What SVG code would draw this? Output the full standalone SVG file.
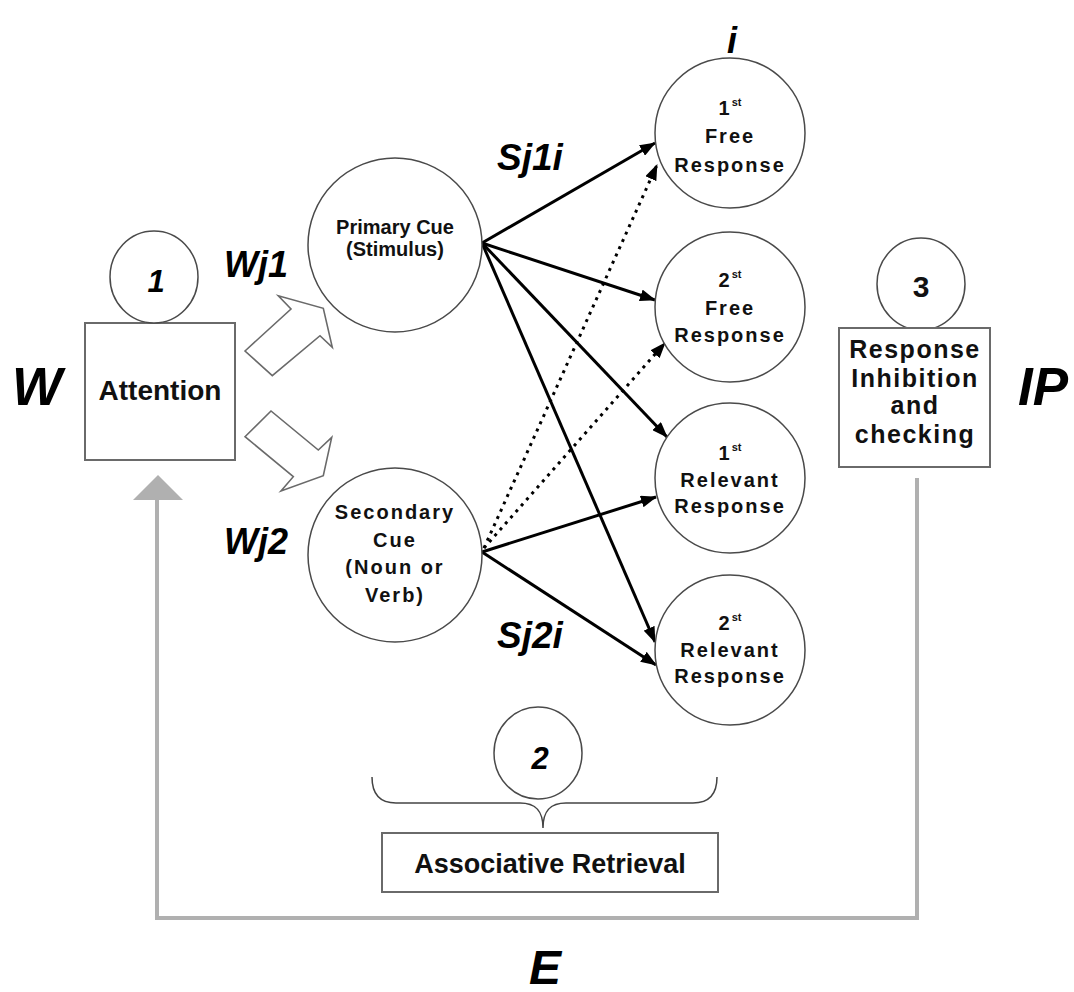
<svg xmlns="http://www.w3.org/2000/svg" width="1074" height="992" viewBox="0 0 1074 992">
  <defs>
    <style>
      .bg { fill: #ffffff; }
      .ring { fill: #ffffff; stroke: #4a4a4a; stroke-width: 1.5; }
      .box { fill: #ffffff; stroke: #6a6a6a; stroke-width: 2; }
      .hollow { fill: #ffffff; stroke: #6a6a6a; stroke-width: 1.6; stroke-linejoin: miter; }
      .t { font-family: "Liberation Sans", Arial, sans-serif; fill: #111; text-anchor: middle; }
      .bi { font-family: "Liberation Sans", Arial, sans-serif; font-weight: bold; font-style: italic; fill: #000; }
      .cue { font-size: 20px; font-weight: bold; }
      .lbl { font-size: 20px; font-weight: bold; letter-spacing: 2px; }
      .sup { font-size: 11px; font-weight: bold; letter-spacing: 0; }
      .num { font-size: 30px; font-weight: bold; }
      .edge { stroke: #000; stroke-width: 3; fill: none; }
      .dot { stroke: #000; stroke-width: 3; fill: none; stroke-dasharray: 3 5; }
      .loop { stroke: #b0b0b0; stroke-width: 4; fill: none; }
    </style>
    <marker id="head" markerUnits="userSpaceOnUse" markerWidth="16" markerHeight="12" refX="15" refY="6" orient="auto">
      <path d="M0,0 L16,6 L0,12 z" fill="#000"/>
    </marker>
  </defs>

  <rect class="bg" x="0" y="0" width="1074" height="992"/>

  <!-- feedback loop -->
  <g id="feedback">
    <path class="loop" d="M917,478 L917,918 L157,918 L157,498"/>
    <polygon points="133,500 183,500 158,475" fill="#b0b0b0"/>
  </g>

  <!-- stage 1: attention -->
  <g id="attention">
    <rect class="box" x="85" y="323" width="150" height="137"/>
    <text class="t" x="160" y="400" font-size="28" font-weight="bold">Attention</text>
  </g>
  <g id="stage1">
    <ellipse class="ring" cx="154" cy="277" rx="44" ry="46"/>
    <text class="bi" x="156" y="292" font-size="31" text-anchor="middle">1</text>
  </g>

  <!-- weight arrows -->
  <g id="weight-arrows">
    <polygon class="hollow" points="245,351 291,309 278.3,295.7 323.3,308.3 332.3,347.3 320,335.7 272.3,375.7"/>
    <polygon class="hollow" points="245,436.7 271,411 318.3,450 331.7,437.3 323.3,475.7 281,491 293.3,476.7"/>
  </g>

  <!-- connectors -->
  <g id="connectors">
    <line class="edge" x1="482" y1="243" x2="655" y2="143" marker-end="url(#head)"/>
    <line class="edge" x1="482" y1="243" x2="655" y2="300" marker-end="url(#head)"/>
    <line class="edge" x1="482" y1="243" x2="667" y2="437" marker-end="url(#head)"/>
    <line class="edge" x1="482" y1="243" x2="655" y2="642" marker-end="url(#head)"/>
    <line class="edge" x1="482" y1="552" x2="656" y2="497" marker-end="url(#head)"/>
    <line class="edge" x1="482" y1="552" x2="656" y2="665" marker-end="url(#head)"/>
    <line class="dot" x1="484" y1="548" x2="657" y2="165" marker-end="url(#head)"/>
    <line class="dot" x1="484" y1="548" x2="665" y2="343" marker-end="url(#head)"/>
  </g>

  <!-- cues -->
  <g id="primary-cue">
    <circle class="ring" cx="395" cy="245" r="87"/>
    <text class="t cue" x="395" y="234">Primary Cue</text>
    <text class="t cue" x="395" y="256">(Stimulus)</text>
  </g>
  <g id="secondary-cue">
    <circle class="ring" cx="395" cy="555" r="87"/>
    <text class="t lbl" x="395" y="519">Secondary</text>
    <text class="t lbl" x="395" y="547">Cue</text>
    <text class="t lbl" x="395" y="574">(Noun or</text>
    <text class="t lbl" x="395" y="602">Verb)</text>
  </g>

  <!-- responses -->
  <g id="free-1">
    <circle class="ring" cx="730" cy="133" r="75"/>
    <text class="t lbl" x="730" y="115">1<tspan class="sup" dy="-9">st</tspan></text>
    <text class="t lbl" x="730" y="143">Free</text>
    <text class="t lbl" x="730" y="172">Response</text>
  </g>
  <g id="free-2">
    <circle class="ring" cx="730" cy="307" r="75"/>
    <text class="t lbl" x="730" y="287">2<tspan class="sup" dy="-9">st</tspan></text>
    <text class="t lbl" x="730" y="315">Free</text>
    <text class="t lbl" x="730" y="342">Response</text>
  </g>
  <g id="relevant-1">
    <circle class="ring" cx="730" cy="478" r="75"/>
    <text class="t lbl" x="730" y="460">1<tspan class="sup" dy="-9">st</tspan></text>
    <text class="t lbl" x="730" y="487">Relevant</text>
    <text class="t lbl" x="730" y="513">Response</text>
  </g>
  <g id="relevant-2">
    <circle class="ring" cx="730" cy="650" r="75"/>
    <text class="t lbl" x="730" y="630">2<tspan class="sup" dy="-9">st</tspan></text>
    <text class="t lbl" x="730" y="657">Relevant</text>
    <text class="t lbl" x="730" y="683">Response</text>
  </g>

  <!-- stage 2: associative retrieval -->
  <g id="stage2">
    <ellipse class="ring" cx="538" cy="753" rx="44" ry="46"/>
    <text class="bi" x="540" y="769" font-size="31" text-anchor="middle">2</text>
  </g>
  <g id="retrieval">
    <path d="M372,777 C372,795 380,803 396,803 L520,803 C535,803 543,810 543,828 C543,810 551,803 566,803 L693,803 C709,803 717,795 717,777" fill="none" stroke="#444" stroke-width="1.5"/>
    <rect class="box" x="382" y="833" width="336" height="59"/>
    <text class="t" x="550" y="873" font-size="27" font-weight="bold">Associative Retrieval</text>
  </g>

  <!-- stage 3: response inhibition -->
  <g id="stage3">
    <ellipse class="ring" cx="921" cy="284" rx="44" ry="46"/>
    <text class="t num" x="921" y="297">3</text>
  </g>
  <g id="inhibition">
    <rect class="box" x="839" y="328" width="151" height="139"/>
    <text class="t" x="915" y="358" font-size="25" font-weight="bold" letter-spacing="1.5">Response</text>
    <text class="t" x="915" y="387" font-size="25" font-weight="bold" letter-spacing="1.5">Inhibition</text>
    <text class="t" x="915" y="414" font-size="25" font-weight="bold" letter-spacing="1.5">and</text>
    <text class="t" x="915" y="443" font-size="25" font-weight="bold" letter-spacing="1.5">checking</text>
  </g>

  <!-- outer variable labels -->
  <g id="labels">
    <text class="bi" x="12" y="405" font-size="53">W</text>
    <text class="bi" x="1018" y="405" font-size="53">IP</text>
    <text class="bi" x="529" y="984" font-size="48">E</text>
    <text class="bi" x="727" y="53" font-size="36">i</text>
    <text class="bi" x="224" y="277" font-size="36">Wj1</text>
    <text class="bi" x="224" y="554" font-size="36">Wj2</text>
    <text class="bi" x="497" y="170" font-size="37">Sj1i</text>
    <text class="bi" x="497" y="648" font-size="37">Sj2i</text>
  </g>
</svg>
